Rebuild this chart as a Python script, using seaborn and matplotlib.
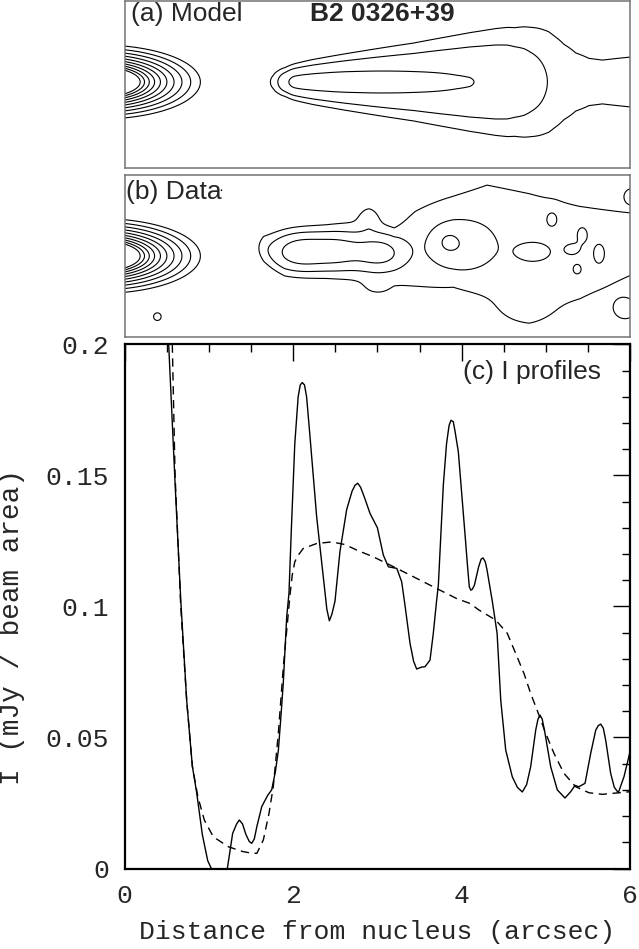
import matplotlib
matplotlib.use('Agg')
import matplotlib.pyplot as plt
import seaborn as sns
import pandas as pd
import numpy as np
from matplotlib.ticker import MultipleLocator

sns.set_style('white')
plt.rcParams['font.family'] = ['DejaVu Sans']

# (c) intensity profiles along the jet
data_x = [0.40, 0.45, 0.524, 0.60, 0.668, 0.738, 0.805, 0.856, 0.923, 0.987, 1.03, 1.12, 1.22,
          1.283, 1.33, 1.362, 1.40, 1.44, 1.48, 1.509, 1.54, 1.57, 1.628, 1.70, 1.746, 1.79,
          1.825, 1.86, 1.884, 1.924, 1.951, 1.98, 2.02, 2.06, 2.085, 2.109, 2.135, 2.16, 2.20,
          2.28, 2.347, 2.40, 2.43, 2.46, 2.497, 2.556, 2.636, 2.70, 2.735, 2.766, 2.80, 2.853,
          2.912, 3.00, 3.07, 3.13, 3.18, 3.23, 3.288, 3.327, 3.387, 3.43, 3.466, 3.52, 3.565,
          3.624, 3.663, 3.703, 3.723, 3.782, 3.82, 3.85, 3.873, 3.90, 3.92, 3.96, 4.04, 4.07,
          4.09, 4.107, 4.125, 4.15, 4.20, 4.23, 4.253, 4.28, 4.30, 4.324, 4.363, 4.42, 4.463,
          4.522, 4.60, 4.66, 4.719, 4.77, 4.818, 4.878, 4.905, 4.929, 4.955, 4.988, 5.056,
          5.134, 5.225, 5.293, 5.344, 5.39, 5.463, 5.53, 5.59, 5.62, 5.649, 5.68, 5.708, 5.767,
          5.81, 5.858, 5.925, 6.0]
data_i = [0.27, 0.252, 0.20, 0.147, 0.102, 0.064, 0.039, 0.029, 0.013, 0.003, 0.0, -0.005, 0.0,
          0.0134, 0.017, 0.0185, 0.017, 0.013, 0.0103, 0.0096, 0.0113, 0.016, 0.0236, 0.028,
          0.030, 0.037, 0.045, 0.060, 0.071, 0.096, 0.105, 0.13, 0.162, 0.180, 0.1845, 0.1854,
          0.1845, 0.180, 0.165, 0.134, 0.1145, 0.099, 0.0945, 0.097, 0.102, 0.121, 0.137, 0.144,
          0.1462, 0.147, 0.1455, 0.141, 0.1355, 0.130, 0.1196, 0.1151, 0.1148, 0.1145, 0.1094,
          0.1005, 0.0859, 0.079, 0.0761, 0.0768, 0.077, 0.0795, 0.0897, 0.1024, 0.1081, 0.1463,
          0.162, 0.169, 0.171, 0.1705, 0.167, 0.159, 0.1272, 0.115, 0.1075, 0.1062, 0.1065, 0.108,
          0.115, 0.118, 0.1185, 0.117, 0.114, 0.1094, 0.102, 0.0897, 0.0643, 0.0452, 0.035, 0.031,
          0.0292, 0.032, 0.0388, 0.0528, 0.057, 0.0585, 0.057, 0.0516, 0.0388, 0.030, 0.0269,
          0.0293, 0.0317, 0.0312, 0.0325, 0.0439, 0.0528, 0.0545, 0.0551, 0.0535, 0.049, 0.0363,
          0.031, 0.0289, 0.035, 0.045]

model_x = [0.50, 0.55, 0.567, 0.60, 0.667, 0.738, 0.805, 0.87, 0.947, 1.053, 1.232, 1.40, 1.509,
           1.57, 1.647, 1.714, 1.765, 1.825, 1.884, 1.943, 1.963, 1.99, 2.02, 2.06, 2.12, 2.28,
           2.458, 2.616, 2.754, 2.952, 3.149, 3.348, 3.545, 3.742, 3.94, 4.10, 4.205, 4.403,
           4.541, 4.64, 4.739, 4.818, 4.909, 4.996, 5.095, 5.213, 5.352, 5.51, 5.668, 5.866, 6.0]
model_i = [0.29, 0.23, 0.20, 0.15, 0.100, 0.064, 0.039, 0.0274, 0.0185, 0.0121, 0.0083, 0.0065,
           0.0058, 0.0058, 0.0109, 0.021, 0.0312, 0.0516, 0.077, 0.0973, 0.1043, 0.112, 0.117,
           0.1195, 0.1221, 0.124, 0.1246, 0.1236, 0.1215, 0.1189, 0.1158, 0.1126, 0.1094, 0.1062,
           0.103, 0.1011, 0.0986, 0.0948, 0.0897, 0.0821, 0.0744, 0.0668, 0.0592, 0.0516, 0.0439,
           0.0363, 0.0312, 0.0289, 0.0283, 0.0289, 0.0293]

# maps: contour levels double from the lowest one
contour_base = 0.025
n_levels = 10
# nucleus sits just left of the map edge
core_x0 = -0.3
core_radius = 1.2       # radius of the lowest contour
core_axis_ratio = 0.37
core_slope = 6.9

# model jet width along the jet
width_x = [0.0, 1.5, 1.9, 2.23, 3.43, 4.63, 5.03, 6.0]
width_sigma = [0.12, 0.12, 0.11, 0.15, 0.27, 0.42, 0.52, 0.53]

# data map: diffuse envelope + knots + small islands
env_x = [1.5, 1.65, 1.9, 2.4, 2.9, 3.2, 3.45, 3.9, 4.3, 4.8, 5.4, 6.0]
env_amp = [0.0, 0.03, 0.038, 0.038, 0.038, 0.036, 0.032, 0.038, 0.038, 0.037, 0.036, 0.035]
env_mid = [0.12, 0.10, 0.03, 0.045, 0.07, -0.02, 0.08, 0.19, 0.18, 0.03, 0.04, 0.14]
env_wid = [0.1, 0.15, 0.22, 0.27, 0.36, 0.32, 0.6, 0.55, 0.72, 0.8, 0.64, 0.45]

blob_x = [2.08, 2.5, 3.02, 3.98, 3.83, 4.85, 2.9, 5.07, 5.43, 5.31, 5.63, 5.37, 5.95, 6.02, 0.39,
          1.15, 3.0, 4.75]
blob_y = [0.05, 0.06, 0.04, 0.12, 0.17, 0.05, 0.44, 0.44, 0.26, 0.08, 0.02, -0.16, -0.64, 0.72,
          -0.72, 0.78, -0.36, -0.62]
blob_amp = [0.105, 0.10, 0.095, 0.05, 0.035, 0.025, 0.02, 0.03, 0.025, 0.022, 0.022, 0.024,
            0.032, 0.03, 0.03, 0.026, 0.014, 0.01]
blob_sx = [0.2, 0.22, 0.2, 0.26, 0.1, 0.18, 0.08, 0.06, 0.06, 0.08, 0.07, 0.05, 0.11, 0.06, 0.07,
           0.02, 0.12, 0.2]
blob_sy = [0.13, 0.13, 0.13, 0.2, 0.1, 0.1, 0.1, 0.08, 0.09, 0.06, 0.13, 0.06, 0.1, 0.06, 0.07,
           0.02, 0.08, 0.12]

gx = np.linspace(0, 6, 601)
gy = np.linspace(-1.05, 1.05, 211)
X, Y = np.meshgrid(gx, gy)
levels = contour_base * 2.0 ** np.arange(n_levels)

r_core = np.sqrt((X - core_x0) ** 2 + (Y / core_axis_ratio) ** 2)
core = contour_base * (r_core / core_radius) ** (-core_slope)

sig = np.interp(X, width_x, width_sigma)
jet = np.interp(X, model_x, model_i) * np.exp(-Y ** 2 / (2 * sig ** 2))
model_map = core + np.where(X > 1.2, jet, 0.0)

mid = np.interp(X, env_x, env_mid)
wid = np.interp(X, env_x, env_wid)
data_map = core + np.interp(X, env_x, env_amp, left=0.0) * np.exp(-(Y - mid) ** 2 / (2 * wid ** 2))
for bx, by, ba, sx, sy in zip(blob_x, blob_y, blob_amp, blob_sx, blob_sy):
    data_map += ba * np.exp(-(X - bx) ** 2 / (2 * sx ** 2) - (Y - by) ** 2 / (2 * sy ** 2))

fig = plt.figure(figsize=(6.39, 9.49), dpi=100)
left, width = 124.5 / 639, 505.8 / 639
ax_a = fig.add_axes([left, 1 - 168 / 949, width, 167 / 949])
ax_b = fig.add_axes([left, 1 - 337 / 949, width, 162 / 949])
ax_c = fig.add_axes([left, 1 - 868.5 / 949, width, 524.2 / 949])

for ax, z, ylim in [(ax_a, model_map, (-1.03, 0.97)), (ax_b, data_map, (-0.96, 0.96))]:
    ax.contour(X, Y, z, levels=levels, colors='k', linewidths=0.8)
    ax.set_xlim(0, 6)
    ax.set_ylim(*ylim)
    ax.set_xticks([])
    ax.set_yticks([])
    for s in ax.spines.values():
        s.set_color('0.45')
        s.set_linewidth(1.1)

fig.text(131 / 639, 1 - 21 / 949, '(a) Model', fontsize=19, family='Liberation Sans', va='baseline')
fig.text(310 / 639, 1 - 21 / 949, 'B2 0326+39', fontsize=19, family='Liberation Sans',
         weight='bold', va='baseline')
fig.text(126 / 639, 1 - 199 / 949, '(b) Data', fontsize=19, family='Liberation Sans', va='baseline')

prof = pd.concat([
    pd.DataFrame({'x': data_x, 'I': data_i, 'kind': 'data'}),
    pd.DataFrame({'x': model_x, 'I': model_i, 'kind': 'model'}),
])
sns.lineplot(data=prof[prof.kind == 'data'], x='x', y='I', ax=ax_c, color='k', lw=1.0,
             sort=False, estimator=None)
sns.lineplot(data=prof[prof.kind == 'model'], x='x', y='I', ax=ax_c, color='k', lw=1.0,
             sort=False, estimator=None, linestyle=(0, (6, 4)))

ax_c.set_xlim(0, 6)
ax_c.set_ylim(0, 0.2)
ax_c.set_xticks([0, 2, 4, 6])
ax_c.set_xticklabels(['0', '2', '4', '6'])
ax_c.set_yticks([0, 0.05, 0.1, 0.15, 0.2])
ax_c.set_yticklabels(['0', '0.05', '0.1', '0.15', '0.2'])
ax_c.xaxis.set_minor_locator(MultipleLocator(0.5))
ax_c.yaxis.set_minor_locator(MultipleLocator(0.01))
ax_c.tick_params(which='both', direction='in', top=True, right=True, width=1.0, color='k')
ax_c.tick_params(which='major', length=12, pad=11, labelsize=19)
ax_c.tick_params(which='minor', length=6)
for lab in ax_c.get_xticklabels() + ax_c.get_yticklabels():
    lab.set_family('Liberation Mono')
for s in ax_c.spines.values():
    s.set_color('k')
    s.set_linewidth(1.6)
ax_c.set_xlabel('Distance from nucleus (arcsec)', fontsize=19, family='Liberation Mono', labelpad=9)
ax_c.set_ylabel('I (mJy / beam area)', fontsize=20, family='Liberation Mono')
ax_c.yaxis.set_label_coords(-0.197, 0.46)
ax_c.text(0.942, 0.934, '(c) I profiles', transform=ax_c.transAxes, ha='right', va='baseline',
          fontsize=19, family='Liberation Sans')

fig.savefig('out.png', dpi=100)
